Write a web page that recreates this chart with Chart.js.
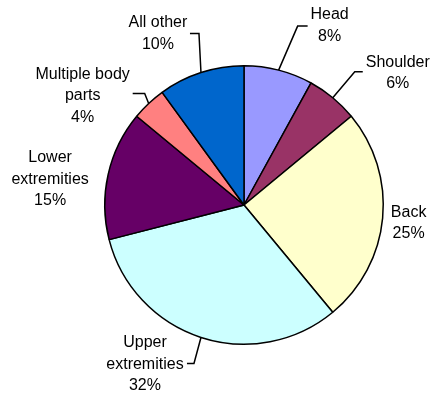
<!DOCTYPE html>
<html>
<head>
<meta charset="utf-8">
<script src="https://cdn.jsdelivr.net/npm/chart.js@4/dist/chart.umd.min.js"></script>
<style>
  html, body { margin: 0; padding: 0; background: #fff; }
  #wrap { width: 435px; height: 395px; }
</style>
</head>
<body>
<div id="wrap"><canvas id="pie" width="435" height="395"></canvas></div>
<script>
"use strict";

// injury share by body part, clockwise from 12 o'clock
let parts = ["Head", "Shoulder", "Back", "Upper extremities", "Lower extremities", "Multiple body parts", "All other"];
let shares = [8, 6, 25, 32, 15, 4, 10];
let colors = ["#9999FF", "#993366", "#FFFFCC", "#CCFFFF", "#660066", "#FF8080", "#0066CC"];

// how each label is split into lines
let labelLines = [
  ["Head"],
  ["Shoulder"],
  ["Back"],
  ["Upper", "extremities"],
  ["Lower", "extremities"],
  ["Multiple body", "parts"],
  ["All other"]
];

// label placement relative to the slice's outer edge point
// text: centre of the text block, elbow/end: leader line (null = no leader)
let labelPlace = [
  { text: [51, -44.5], elbow: [19, -44], end: [29, -44] },
  { text: [65, -24.5], elbow: [22, -26], end: [30, -26] },
  { text: [26, 5], elbow: null, end: null },
  { text: [-56, 27], elbow: [-7, 26], end: [-14, 26] },
  { text: [-58, 4.5], elbow: null, end: null },
  { text: [-66, -7.5], elbow: [-4, -10], end: [-16, -10] },
  { text: [-43, -39], elbow: [-2, -39], end: [-11, -39] }
];

const FONT = "16px 'Liberation Sans', Arial, sans-serif";
const LINE_H = 21.5;

let sliceLabels = {
  id: "sliceLabels",
  afterDraw(chart) {
    let ctx = chart.ctx;
    let meta = chart.getDatasetMeta(0);
    ctx.save();
    ctx.font = FONT;
    ctx.fillStyle = "#000";
    ctx.strokeStyle = "#000";
    ctx.lineWidth = 1.5;
    ctx.textAlign = "center";
    ctx.textBaseline = "middle";
    meta.data.forEach((arc, i) => {
      let mid = (arc.startAngle + arc.endAngle) / 2;
      let ex = arc.x + Math.cos(mid) * arc.outerRadius;
      let ey = arc.y + Math.sin(mid) * arc.outerRadius;
      let p = labelPlace[i];
      if (p.elbow) {
        ctx.beginPath();
        ctx.moveTo(ex, ey);
        ctx.lineTo(ex + p.elbow[0], ey + p.elbow[1]);
        ctx.lineTo(ex + p.end[0], ey + p.end[1]);
        ctx.stroke();
      }
      let lines = labelLines[i].concat([shares[i] + "%"]);
      let top = ey + p.text[1] - (lines.length - 1) * LINE_H / 2;
      lines.forEach((txt, k) => {
        ctx.fillText(txt, ex + p.text[0], top + k * LINE_H);
      });
    });
    ctx.restore();
  }
};

let chart = new Chart(document.querySelector("#pie"), {
  type: "pie",
  data: {
    labels: parts,
    datasets: [{
      data: shares,
      backgroundColor: colors,
      borderColor: "#000",
      borderWidth: 1.5
    }]
  },
  options: {
    responsive: false,
    animation: false,
    layout: { padding: { left: 104, right: 51, top: 65, bottom: 50 } },
    plugins: {
      legend: { display: false },
      tooltip: { enabled: false }
    }
  },
  plugins: [sliceLabels]
});
</script>
</body>
</html>
